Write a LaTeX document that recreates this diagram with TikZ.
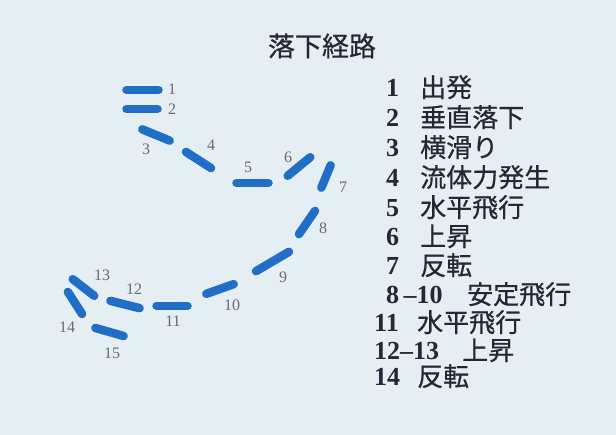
\documentclass[tikz,border=0pt]{standalone}
\usepackage{fontspec}
\setmainfont{Liberation Serif}
\newfontfamily\cjk[FakeBold=0.6]{Noto Sans CJK JP}
\definecolor{bgc}{RGB}{228,238,243}
\definecolor{segc}{RGB}{32,110,198}
\definecolor{lblc}{RGB}{105,105,115}
\definecolor{txtc}{RGB}{38,38,54}
\tikzset{
  seg/.style={draw=segc, line width=8.5pt, line cap=round, shorten <=3.5pt, shorten >=3.5pt},
  lbl/.style={text=lblc, font=\fontsize{16}{16}\selectfont, inner sep=0pt},
  numtxt/.style={text=txtc, font=\fontsize{26}{26}\selectfont\bfseries, inner sep=0pt, anchor=base west},
  cjktxt/.style={text=txtc, font=\fontsize{26}{26}\selectfont\cjk, inner sep=0pt, anchor=base west},
  ttl/.style={text=txtc, font=\fontsize{27}{27}\selectfont\cjk, inner sep=0pt}
}
\begin{document}
\begin{tikzpicture}[x=1pt,y=-1pt]
\fill[bgc] (0,0) rectangle (616,435);
\useasboundingbox (0,0) rectangle (616,435);
% title
\node[ttl] (title) at (322,46) {落下経路};
% segment end points
\coordinate (a1) at (123,90);  \coordinate (b1) at (162,90);
\coordinate (a2) at (123,109); \coordinate (b2) at (161,109);
\coordinate (a3) at (139,128); \coordinate (b3) at (173,142);
\coordinate (a4) at (183,150); \coordinate (b4) at (214,170);
\coordinate (a5) at (233,183); \coordinate (b5) at (272,183);
\coordinate (a6) at (285,178); \coordinate (b6) at (313,155);
\coordinate (a7) at (332,162); \coordinate (b7) at (320,191);
\coordinate (a8) at (317,208); \coordinate (b8) at (297,237);
\coordinate (a9) at (292,250); \coordinate (b9) at (253,273);
\coordinate (a10) at (237,283); \coordinate (b10) at (203,295);
\coordinate (a11) at (191,306); \coordinate (b11) at (153,306);
\coordinate (a12) at (143,309); \coordinate (b12) at (107,300);
\coordinate (a13) at (97,298); \coordinate (b13) at (70,277);
\coordinate (a14) at (66,289); \coordinate (b14) at (84,317);
\coordinate (a15) at (92,327); \coordinate (b15) at (127,337);
\foreach \i in {1,...,15} {\draw[seg] (a\i) -- (b\i);}
% segment labels
\node[lbl] (l1) at (172,89) {1};
\node[lbl] (l2) at (172,109) {2};
\node[lbl] (l3) at (146,149) {3};
\node[lbl] (l4) at (211,145) {4};
\node[lbl] (l5) at (248,167) {5};
\node[lbl] (l6) at (288,157) {6};
\node[lbl] (l7) at (343,187) {7};
\node[lbl] (l8) at (323,228) {8};
\node[lbl] (l9) at (283,277) {9};
\node[lbl] (l10) at (232,305) {10};
\node[lbl] (l11) at (173,321) {11};
\node[lbl] (l12) at (134,289) {12};
\node[lbl] (l13) at (102,275) {13};
\node[lbl] (l14) at (67,327) {14};
\node[lbl] (l15) at (112,353) {15};
% legend
\node[numtxt] (n1) at (386,97) {1};   \node[cjktxt] (t1) at (420,97) {出発};
\node[numtxt] (n2) at (386,127) {2};  \node[cjktxt] (t2) at (420,127) {垂直落下};
\node[numtxt] (n3) at (386,157) {3};  \node[cjktxt] (t3) at (420,157) {横滑り};
\node[numtxt] (n4) at (386,187) {4};  \node[cjktxt] (t4) at (420,187) {流体力発生};
\node[numtxt] (n5) at (386,217) {5};  \node[cjktxt] (t5) at (420,217) {水平飛行};
\node[numtxt] (n6) at (386,246) {6};  \node[cjktxt] (t6) at (420,246) {上昇};
\node[numtxt] (n7) at (386,275) {7};  \node[cjktxt] (t7) at (420,275) {反転};
\node[numtxt] (n8) at (386,304) {8\,–10}; \node[cjktxt] (t8) at (467,304) {安定飛行};
\node[numtxt] (n11) at (374,332) {11}; \node[cjktxt] (t11) at (417,332) {水平飛行};
\node[numtxt] (n12) at (374,360) {12–13}; \node[cjktxt] (t12) at (462,360) {上昇};
\node[numtxt] (n14) at (374,386) {14}; \node[cjktxt] (t14) at (417,386) {反転};
\end{tikzpicture}
\end{document}
